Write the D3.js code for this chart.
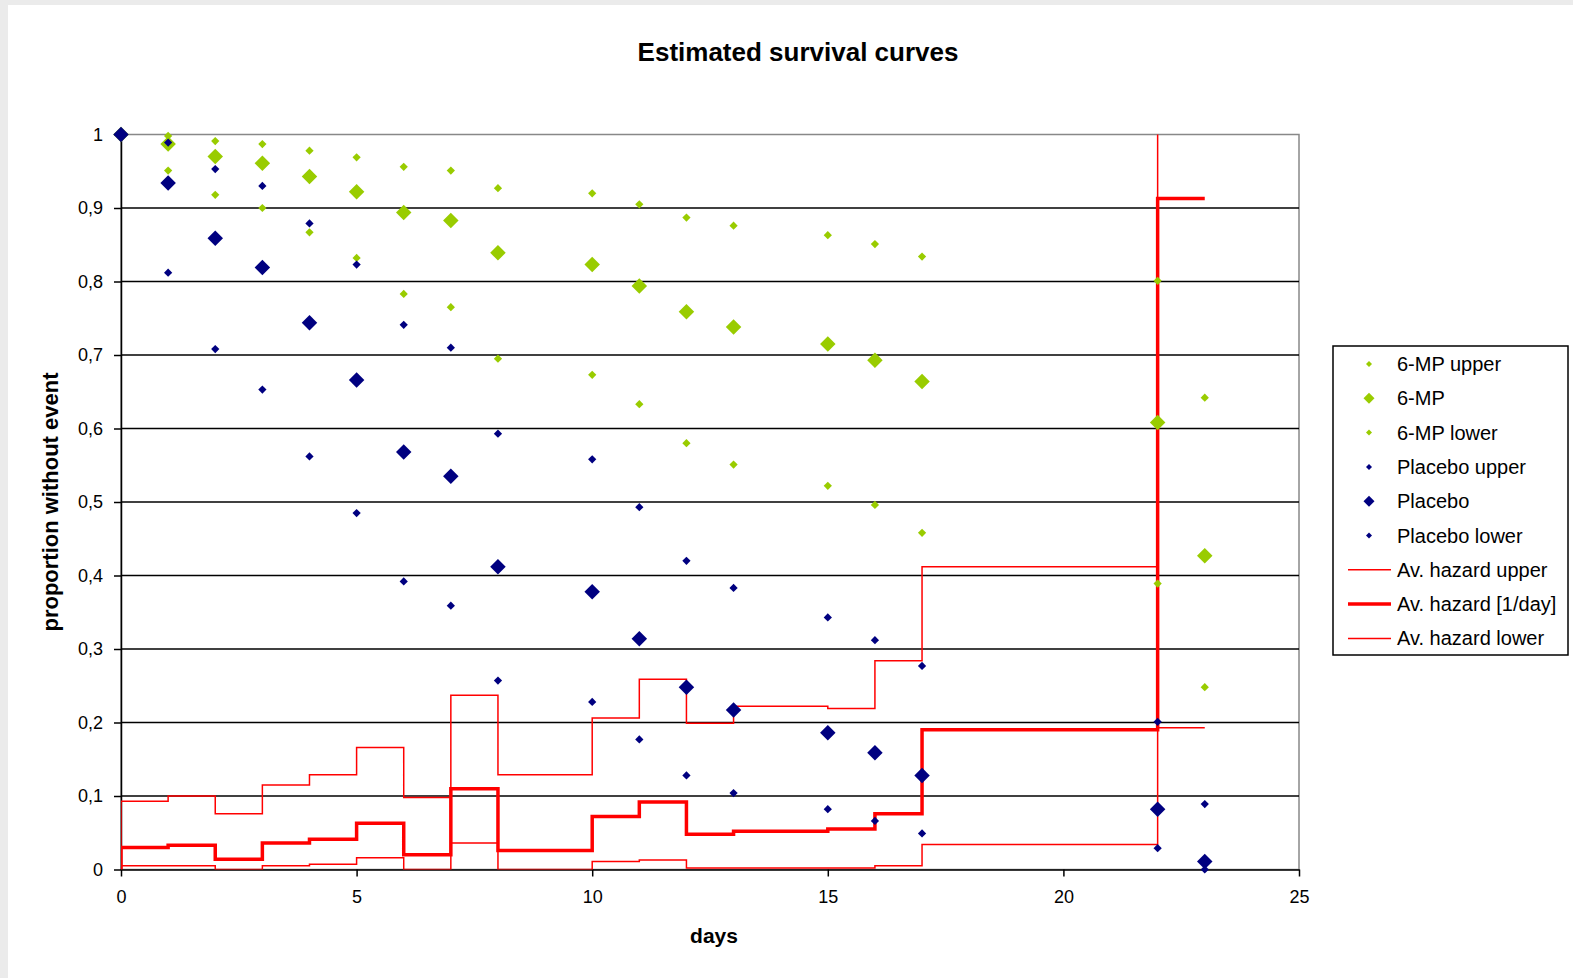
<!DOCTYPE html>
<html>
<head>
    <meta charset="utf-8">
    <title>Estimated survival curves</title>
    <style>
        body { margin: 0; background: #ebebeb; }
        svg { display: block; font-family: "Liberation Sans", Arial, sans-serif; }
        .grid line { stroke: #000; stroke-width: 1.5; }
        .axis path, .axis line { stroke: #000; stroke-width: 1.5; }
        .axis text { font-size: 18px; fill: #000; }
        .legend text { font-size: 20px; fill: #000; }
    </style>
</head>
<body>
<svg width="1573" height="978"></svg>
<script src="https://d3js.org/d3.v7.min.js"></script>
<script>
    // days with estimates
    var days = [0, 1, 2, 3, 4, 5, 6, 7, 8, 10, 11, 12, 13, 15, 16, 17, 22, 23];

    // survival estimates (6-MP)
    var mpUpper = [1, 0.998, 0.991, 0.987, 0.978, 0.969, 0.956, 0.951, 0.927, 0.920, 0.905, 0.887, 0.876, 0.863, 0.851, 0.834, 0.801, 0.642];
    var mp = [1, 0.987, 0.970, 0.961, 0.943, 0.922, 0.894, 0.883, 0.839, 0.823, 0.794, 0.759, 0.738, 0.715, 0.693, 0.664, 0.608, 0.427];
    var mpLower = [1, 0.951, 0.918, 0.900, 0.867, 0.832, 0.783, 0.765, 0.695, 0.673, 0.633, 0.580, 0.551, 0.522, 0.496, 0.458, 0.389, 0.248];

    // survival estimates (placebo)
    var plUpper = [1, 0.989, 0.953, 0.930, 0.879, 0.823, 0.741, 0.710, 0.593, 0.558, 0.493, 0.420, 0.383, 0.343, 0.312, 0.277, 0.201, 0.089];
    var pl = [1, 0.934, 0.859, 0.819, 0.744, 0.666, 0.568, 0.535, 0.412, 0.378, 0.314, 0.248, 0.217, 0.186, 0.159, 0.128, 0.082, 0.011];
    var plLower = [1, 0.812, 0.708, 0.653, 0.562, 0.485, 0.392, 0.359, 0.257, 0.228, 0.177, 0.128, 0.104, 0.082, 0.066, 0.049, 0.029, 0.0];

    // average hazard per interval [days[i], days[i+1])
    var hazUpper = [0.093, 0.100, 0.076, 0.115, 0.129, 0.166, 0.098, 0.237, 0.129, 0.206, 0.259, 0.199, 0.222, 0.219, 0.284, 0.412, 1.6];
    var haz = [0.030, 0.033, 0.014, 0.036, 0.041, 0.063, 0.020, 0.110, 0.026, 0.072, 0.092, 0.048, 0.052, 0.055, 0.076, 0.190, 0.913];
    var hazLower = [0.005, 0.005, 0.000, 0.005, 0.007, 0.016, 0.000, 0.036, 0.000, 0.011, 0.013, 0.002, 0.002, 0.002, 0.005, 0.034, 0.193];

    var xTicks = [0, 5, 10, 15, 20, 25];
    var yTicks = [0, 0.1, 0.2, 0.3, 0.4, 0.5, 0.6, 0.7, 0.8, 0.9, 1];

    var green = "#99cc00", navy = "#000080", red = "#ff0000";

    var svg = d3.select("svg");

    // white chart area on grey page
    svg.append("rect").attr("x", 8).attr("y", 5).attr("width", 1565).attr("height", 973).attr("fill", "#fff");

    var pLeft = 121, pRight = 1299, pTop = 134.5, pBottom = 869.5;
    var x = d3.scaleLinear().domain([0, 25]).range([pLeft, pRight]);
    var y = d3.scaleLinear().domain([0, 1]).range([pBottom, pTop]);

    // plot area border (grey)
    svg.append("rect")
        .attr("x", pLeft).attr("y", pTop)
        .attr("width", pRight - pLeft).attr("height", pBottom - pTop)
        .attr("fill", "none").attr("stroke", "#888").attr("stroke-width", 1.5);

    // gridlines
    svg.append("g").attr("class", "grid")
        .selectAll("line")
        .data(yTicks.filter(function (d) { return d > 0 && d < 1; }))
        .enter().append("line")
        .attr("x1", pLeft).attr("x2", pRight)
        .attr("y1", function (d) { return y(d); })
        .attr("y2", function (d) { return y(d); });

    // axes
    var fmt = function (d) { return String(Math.round(d * 10) / 10).replace(".", ","); };
    svg.append("g").attr("class", "axis")
        .attr("transform", "translate(0," + pBottom + ")")
        .call(d3.axisBottom(x).tickValues(xTicks).tickSize(7).tickPadding(14).tickSizeOuter(0));
    svg.append("g").attr("class", "axis")
        .attr("transform", "translate(" + pLeft + ",0)")
        .call(d3.axisLeft(y).tickValues(yTicks).tickFormat(fmt).tickSize(7).tickPadding(11).tickSizeOuter(0));

    // clip for hazard lines
    svg.append("clipPath").attr("id", "plotclip")
        .append("rect").attr("x", pLeft).attr("y", pTop).attr("width", pRight - pLeft).attr("height", pBottom - pTop);

    var stepLine = d3.line()
        .x(function (d) { return x(d[0]); })
        .y(function (d) { return y(d[1]); })
        .curve(d3.curveStepAfter);

    function stepPoints(vals) {
        var pts = [[0, 0]];
        vals.forEach(function (v, i) { pts.push([days[i], v]); });
        pts.push([days[days.length - 1], vals[vals.length - 1]]);
        return pts;
    }

    var lines = svg.append("g").attr("clip-path", "url(#plotclip)");
    [[hazUpper, 1.5], [hazLower, 1.5], [haz, 3.5]].forEach(function (s) {
        lines.append("path")
            .attr("d", stepLine(stepPoints(s[0])))
            .attr("fill", "none")
            .attr("stroke", red)
            .attr("stroke-width", s[1]);
    });

    // markers (diamonds)
    var small = d3.symbol(d3.symbolSquare, 34);
    var big = d3.symbol(d3.symbolSquare, 120);

    function drawMarkers(vals, color, sym) {
        svg.append("g").selectAll("path")
            .data(vals.map(function (v, i) { return [days[i], v]; }).filter(function (d) { return d[0] > 0 || sym === big; }))
            .enter().append("path")
            .attr("d", sym)
            .attr("fill", color)
            .attr("transform", function (d) { return "translate(" + x(d[0]) + "," + y(d[1]) + ") rotate(45)"; });
    }
    drawMarkers(mpUpper, green, small);
    drawMarkers(mp, green, big);
    drawMarkers(mpLower, green, small);
    drawMarkers(plUpper, navy, small);
    drawMarkers(pl, navy, big);
    drawMarkers(plLower, navy, small);

    // titles
    svg.append("text")
        .attr("x", 798).attr("y", 61)
        .attr("text-anchor", "middle")
        .attr("font-size", "26px").attr("font-weight", "bold")
        .text("Estimated survival curves");
    svg.append("text")
        .attr("x", 714).attr("y", 943)
        .attr("text-anchor", "middle")
        .attr("font-size", "21px").attr("font-weight", "bold")
        .text("days");
    svg.append("text")
        .attr("transform", "translate(58," + (pTop + pBottom) / 2 + ") rotate(-90)")
        .attr("text-anchor", "middle")
        .attr("font-size", "22px").attr("font-weight", "bold")
        .text("proportion without event");

    // legend
    var legendItems = [
        { label: "6-MP upper", color: green, type: "small" },
        { label: "6-MP", color: green, type: "big" },
        { label: "6-MP lower", color: green, type: "small" },
        { label: "Placebo upper", color: navy, type: "small" },
        { label: "Placebo", color: navy, type: "big" },
        { label: "Placebo lower", color: navy, type: "small" },
        { label: "Av. hazard upper", color: red, type: "line", w: 1.5 },
        { label: "Av. hazard [1/day]", color: red, type: "line", w: 3.5 },
        { label: "Av. hazard lower", color: red, type: "line", w: 1.5 }
    ];
    var lg = svg.append("g").attr("class", "legend");
    lg.append("rect")
        .attr("x", 1333).attr("y", 346).attr("width", 235).attr("height", 309)
        .attr("fill", "#fff").attr("stroke", "#000").attr("stroke-width", 1.5);
    var item = lg.selectAll("g.item").data(legendItems).enter().append("g")
        .attr("class", "item")
        .attr("transform", function (d, i) { return "translate(0," + (364 + i * 34.3) + ")"; });
    item.filter(function (d) { return d.type === "line"; })
        .append("line")
        .attr("x1", 1348).attr("x2", 1391).attr("y1", 0).attr("y2", 0)
        .attr("stroke", function (d) { return d.color; })
        .attr("stroke-width", function (d) { return d.w; });
    item.filter(function (d) { return d.type !== "line"; })
        .append("path")
        .attr("d", function (d) { return d.type === "big" ? d3.symbol(d3.symbolSquare, 60)() : d3.symbol(d3.symbolSquare, 18)(); })
        .attr("fill", function (d) { return d.color; })
        .attr("transform", "translate(1369,0) rotate(45)");
    item.append("text")
        .attr("x", 1397).attr("y", 0).attr("dy", "0.35em")
        .text(function (d) { return d.label; });
</script>
</body>
</html>
